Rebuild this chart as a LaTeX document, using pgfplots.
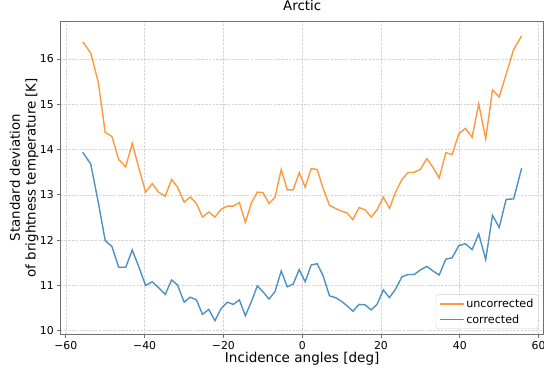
\documentclass[border=0pt]{standalone}
\usepackage{fontspec}
\setmainfont{DejaVu Sans}
\usepackage{pgfplots}
\usepackage{pgfplotstable}
\pgfplotsset{compat=1.18}
\definecolor{taborange}{HTML}{FF7F0E}
\definecolor{tabblue}{HTML}{1F77B4}
\definecolor{spinegray}{HTML}{707070}

\pgfplotstableread{
x unc cor
-55.70 16.38 13.94
-53.67 16.13 13.68
-51.77 15.49 12.84
-50.00 14.38 11.99
-48.30 14.29 11.86
-46.58 13.78 11.40
-44.80 13.62 11.40
-43.13 14.14 11.78
-41.43 13.58 11.40
-39.75 13.06 11.00
-38.06 13.25 11.08
-36.46 13.06 10.95
-34.77 12.97 10.80
-33.16 13.34 11.12
-31.65 13.17 11.01
-29.96 12.84 10.63
-28.44 12.95 10.74
-26.84 12.81 10.68
-25.32 12.51 10.36
-23.71 12.62 10.47
-22.15 12.51 10.22
-20.59 12.68 10.49
-18.99 12.75 10.63
-17.52 12.75 10.58
-15.95 12.83 10.68
-14.43 12.39 10.33
-12.86 12.83 10.65
-11.39 13.06 10.99
-9.96 13.05 10.86
-8.44 12.81 10.70
-6.92 12.94 10.86
-5.32 13.56 11.32
-3.80 13.11 10.97
-2.28 13.11 11.03
-0.76 13.49 11.35
0.76 13.17 11.08
2.28 13.58 11.45
3.80 13.56 11.48
5.32 13.14 11.21
6.92 12.77 10.77
8.44 12.70 10.73
9.96 12.64 10.65
11.39 12.60 10.55
12.86 12.45 10.43
14.43 12.72 10.58
15.95 12.67 10.57
17.52 12.51 10.46
18.99 12.67 10.58
20.59 12.95 10.90
22.15 12.70 10.73
23.71 13.06 10.92
25.32 13.34 11.19
26.84 13.49 11.24
28.44 13.50 11.24
29.96 13.56 11.34
31.65 13.80 11.42
33.16 13.61 11.32
34.77 13.37 11.23
36.46 13.93 11.58
38.06 13.89 11.61
39.75 14.35 11.88
41.43 14.47 11.92
43.13 14.27 11.79
44.80 15.01 12.14
46.58 14.24 11.57
48.30 15.32 12.55
50.00 15.16 12.28
51.77 15.67 12.90
53.67 16.21 12.91
55.70 16.51 13.59
}\datatable

\begin{document}
\begin{tikzpicture}
\useasboundingbox (-60.7bp,-36.7bp) rectangle (483.3bp,334.3bp);
\begin{axis}[
  at={(0,0)}, anchor=south west,
  scale only axis,
  width=483bp, height=313.3bp,
  xmin=-61.3, xmax=61.3,
  ymin=9.92, ymax=16.84,
  xtick={-60,-40,-20,0,20,40,60},
  xticklabels={−60,−40,−20,0,20,40,60},
  ytick={10,11,12,13,14,15,16},
  /pgf/number format/assume math mode=true,
  tick label style={font=\fontsize{10.9}{12}\selectfont, inner sep=3.3bp},
  tick align=outside,
  xtick pos=left, ytick pos=left,
  major tick length=3.5bp,
  every tick/.style={spinegray, line width=0.8bp},
  axis line style={spinegray, line width=0.8bp},
  grid=major,
  major grid style={dash pattern=on 2.6bp off 1.2bp, color=black!16, line width=0.6bp},
  title={Arctic},
  title style={at={(axis description cs:0.5,1)}, anchor=south, inner sep=0pt, yshift=4bp,
    font=\fontsize{13.4}{15}\selectfont},
  xlabel={Incidence angles [deg]},
  xlabel style={at={(axis description cs:0.5,0)}, anchor=north, inner sep=0pt, yshift=-18bp,
    font=\fontsize{13.6}{15}\selectfont},
  ylabel={Standard deviation\\of brightness temperature [K]},
  ylabel style={at={(axis description cs:-0.046,0.5)}, anchor=south, inner sep=0pt, align=center,
    font=\fontsize{13.4}{15.6}\selectfont},
  legend cell align=left,
  legend image code/.code={\draw[#1, line width=1.4bp] (0bp,0bp) -- (24bp,0bp);},
  legend style={at={(axis description cs:1,0)}, anchor=south east,
    xshift=-5.3bp, yshift=5.3bp,
    font=\fontsize{11.2}{13}\selectfont,
    draw=black!20, rounded corners=2.5bp, fill=white, fill opacity=0.8, text opacity=1,
    inner xsep=3bp, inner ysep=1.5bp, row sep=0pt,
    nodes={inner xsep=1.8bp, inner ysep=2.8bp}},
]
\addplot[taborange, opacity=0.8, line width=1.4bp] table[x=x, y=unc] {\datatable};
\addlegendentry{uncorrected}
\addplot[tabblue, opacity=0.8, line width=1.4bp] table[x=x, y=cor] {\datatable};
\addlegendentry{corrected}
\end{axis}
\end{tikzpicture}
\end{document}
